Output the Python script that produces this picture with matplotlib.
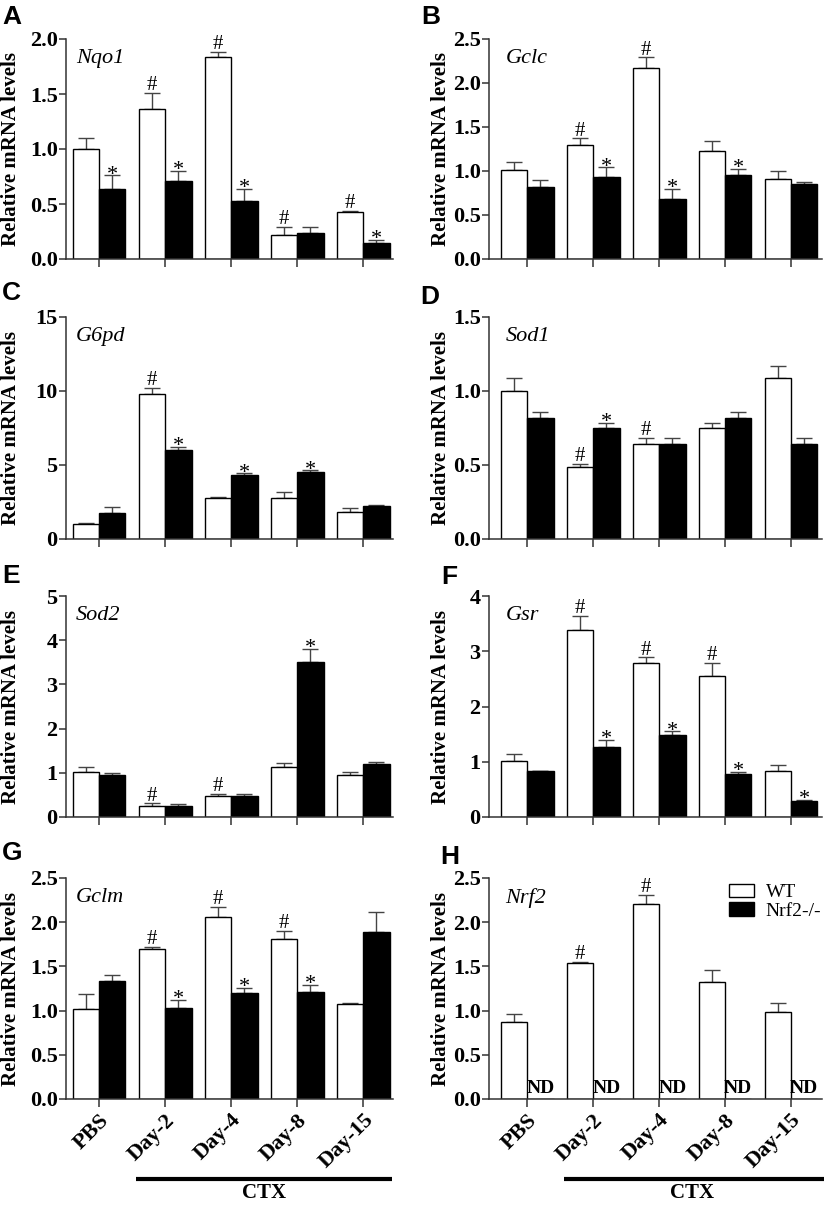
import numpy as np
import matplotlib.pyplot as plt
from matplotlib.patches import Patch

plt.rcParams['font.family'] = ['Liberation Serif', 'DejaVu Serif']

groups = ['PBS', 'Day-2', 'Day-4', 'Day-8', 'Day-15']

# A - Nqo1
nqo1_wt = [1.00, 1.36, 1.84, 0.22, 0.43]
nqo1_wt_err = [0.10, 0.15, 0.04, 0.07, 0.01]
nqo1_ko = [0.64, 0.71, 0.53, 0.24, 0.15]
nqo1_ko_err = [0.12, 0.09, 0.11, 0.05, 0.02]
nqo1_wt_sig = ['', '#', '#', '#', '#']
nqo1_ko_sig = ['*', '*', '*', '', '*']

# B - Gclc
gclc_wt = [1.01, 1.30, 2.17, 1.23, 0.91]
gclc_wt_err = [0.09, 0.07, 0.12, 0.11, 0.09]
gclc_ko = [0.82, 0.93, 0.68, 0.95, 0.85]
gclc_ko_err = [0.08, 0.11, 0.12, 0.07, 0.03]
gclc_wt_sig = ['', '#', '#', '', '']
gclc_ko_sig = ['', '*', '*', '*', '']

# C - G6pd
g6pd_wt = [1.00, 9.83, 2.75, 2.75, 1.84]
g6pd_wt_err = [0.10, 0.40, 0.07, 0.40, 0.24]
g6pd_ko = [1.75, 6.04, 4.32, 4.52, 2.24]
g6pd_ko_err = [0.40, 0.16, 0.11, 0.11, 0.03]
g6pd_wt_sig = ['', '#', '', '', '']
g6pd_ko_sig = ['', '*', '*', '*', '']

# D - Sod1
sod1_wt = [1.00, 0.485, 0.64, 0.75, 1.09]
sod1_wt_err = [0.09, 0.02, 0.045, 0.035, 0.08]
sod1_ko = [0.82, 0.75, 0.64, 0.82, 0.64]
sod1_ko_err = [0.04, 0.035, 0.045, 0.04, 0.045]
sod1_wt_sig = ['', '#', '#', '', '']
sod1_ko_sig = ['', '*', '', '', '']

# E - Sod2
sod2_wt = [1.01, 0.26, 0.47, 1.12, 0.95]
sod2_wt_err = [0.11, 0.05, 0.06, 0.11, 0.07]
sod2_ko = [0.95, 0.255, 0.47, 3.50, 1.21]
sod2_ko_err = [0.05, 0.035, 0.06, 0.31, 0.03]
sod2_wt_sig = ['', '#', '#', '', '']
sod2_ko_sig = ['', '', '', '*', '']

# F - Gsr
gsr_wt = [1.01, 3.38, 2.78, 2.55, 0.84]
gsr_wt_err = [0.13, 0.26, 0.11, 0.24, 0.11]
gsr_ko = [0.83, 1.26, 1.49, 0.78, 0.29]
gsr_ko_err = [0.01, 0.14, 0.06, 0.03, 0.02]
gsr_wt_sig = ['', '#', '#', '#', '']
gsr_ko_sig = ['', '*', '*', '*', '*']

# G - Gclm
gclm_wt = [1.02, 1.70, 2.06, 1.81, 1.08]
gclm_wt_err = [0.17, 0.02, 0.11, 0.09, 0.01]
gclm_ko = [1.34, 1.03, 1.20, 1.21, 1.89]
gclm_ko_err = [0.06, 0.09, 0.06, 0.08, 0.23]
gclm_wt_sig = ['', '#', '#', '#', '']
gclm_ko_sig = ['', '*', '*', '*', '']

# H - Nrf2 (not detected in Nrf2-/-)
nrf2_wt = [0.875, 1.54, 2.21, 1.32, 0.98]
nrf2_wt_err = [0.085, 0.01, 0.10, 0.14, 0.11]
nrf2_ko = [0, 0, 0, 0, 0]
nrf2_ko_err = [0, 0, 0, 0, 0]
nrf2_wt_sig = ['', '#', '#', '', '']
nrf2_ko_sig = ['', '', '', '', '']

panels = [
    ('A', 'Nqo1', nqo1_wt, nqo1_wt_err, nqo1_ko, nqo1_ko_err, nqo1_wt_sig, nqo1_ko_sig, 2.0, 0.5),
    ('B', 'Gclc', gclc_wt, gclc_wt_err, gclc_ko, gclc_ko_err, gclc_wt_sig, gclc_ko_sig, 2.5, 0.5),
    ('C', 'G6pd', g6pd_wt, g6pd_wt_err, g6pd_ko, g6pd_ko_err, g6pd_wt_sig, g6pd_ko_sig, 15, 5),
    ('D', 'Sod1', sod1_wt, sod1_wt_err, sod1_ko, sod1_ko_err, sod1_wt_sig, sod1_ko_sig, 1.5, 0.5),
    ('E', 'Sod2', sod2_wt, sod2_wt_err, sod2_ko, sod2_ko_err, sod2_wt_sig, sod2_ko_sig, 5, 1),
    ('F', 'Gsr', gsr_wt, gsr_wt_err, gsr_ko, gsr_ko_err, gsr_wt_sig, gsr_ko_sig, 4, 1),
    ('G', 'Gclm', gclm_wt, gclm_wt_err, gclm_ko, gclm_ko_err, gclm_wt_sig, gclm_ko_sig, 2.5, 0.5),
    ('H', 'Nrf2', nrf2_wt, nrf2_wt_err, nrf2_ko, nrf2_ko_err, nrf2_wt_sig, nrf2_ko_sig, 2.5, 0.5),
]

W, H = 825, 1205
fig = plt.figure(figsize=(W / 100, H / 100), dpi=100)

rows_px = [(39, 259), (317, 539), (596, 817), (878, 1099)]
cols_px = [(66, 393, (-0.5, 4.45)), (489, 822, (-0.58, 4.47))]
letter_px = [(2, 5), (421, 5), (2, 281), (420, 285), (2, 564), (441, 565), (2, 841), (440, 845)]

x = np.arange(len(groups))
bw = 0.4
axcol = '#333333'

for i, (letter, gene, wt, wt_err, ko, ko_err, wt_sig, ko_sig, ymax, ystep) in enumerate(panels):
    r, c = divmod(i, 2)
    top, bot = rows_px[r]
    left, right, xl = cols_px[c]
    ax = fig.add_axes([left / W, 1 - bot / H, (right - left) / W, (bot - top) / H])

    ax.bar(x - bw / 2, wt, bw, color='white', edgecolor='black', lw=1.0, label='WT', zorder=2)
    ax.bar(x + bw / 2, ko, bw, color='black', edgecolor='black', lw=1.0, label='Nrf2-/-', zorder=2)
    ax.errorbar(x - bw / 2, wt, yerr=[np.zeros(5), wt_err], fmt='none', ecolor='#444444',
                elinewidth=1.0, capsize=6, capthick=1.0, zorder=1)
    if letter != 'H':
        ax.errorbar(x + bw / 2, ko, yerr=[np.zeros(5), ko_err], fmt='none', ecolor='#444444',
                    elinewidth=1.0, capsize=6, capthick=1.0, zorder=1)

    for j in range(5):
        if wt_sig[j]:
            ax.annotate(wt_sig[j], (x[j] - bw / 2, wt[j] + wt_err[j]), xytext=(0, 2),
                        textcoords='offset points', ha='center', va='baseline', fontsize=15)
        if ko_sig[j]:
            ax.annotate(ko_sig[j], (x[j] + bw / 2, ko[j] + ko_err[j]), xytext=(0, -3),
                        textcoords='offset points', ha='center', va='baseline', fontsize=16)

    ax.set_xlim(*xl)
    ax.set_ylim(0, ymax)
    yt = np.arange(0, ymax + ystep / 2, ystep)
    ax.set_yticks(yt)
    if ystep < 1:
        ax.set_yticklabels(['%.1f' % v for v in yt])
    else:
        ax.set_yticklabels(['%d' % v for v in yt])
    ax.set_xticks(x)

    for s in ['top', 'right']:
        ax.spines[s].set_visible(False)
    for s in ['left', 'bottom']:
        ax.spines[s].set_color(axcol)
        ax.spines[s].set_linewidth(1.1)
    ax.tick_params(axis='y', direction='out', length=5, width=1.1, color=axcol, pad=1, labelsize=16)
    ax.tick_params(axis='x', direction='out', length=6, width=1.1, color=axcol, pad=2, labelsize=16)
    for lab in ax.get_yticklabels():
        lab.set_fontweight('bold')

    ax.set_ylabel('Relative mRNA levels', fontsize=15, fontweight='bold')
    ax.yaxis.set_label_coords(-0.139 if c == 0 else -0.113, 0.5)

    gx = 0.03 if c == 0 else 0.05
    ax.text(gx, 0.91, gene, transform=ax.transAxes, fontsize=16, style='italic', va='center')

    fig.text(letter_px[i][0] / W, 1 - letter_px[i][1] / H, letter, fontsize=19, fontweight='bold',
             family='Liberation Sans', va='top', ha='left')

    if r == 3:
        ax.set_xticklabels(groups, rotation=45, ha='right', rotation_mode='anchor',
                           fontweight='bold', fontsize=16)
        # CTX bracket under the treated groups
        ax.plot([0.56, 4.44 if c == 0 else 4.5], [-0.362, -0.362], color='black', lw=3,
                transform=ax.get_xaxis_transform(), clip_on=False, solid_capstyle='butt')
        ax.text(2.5, -0.472, 'CTX', transform=ax.get_xaxis_transform(), ha='center', va='bottom',
                fontsize=15, fontweight='bold')
    else:
        ax.set_xticklabels([])

    if letter == 'H':
        for j in range(5):
            ax.text(x[j] + bw / 2, 0.01, 'ND', ha='center', va='bottom', fontsize=14,
                    fontweight='bold', transform=ax.get_xaxis_transform())
        ax.legend(handles=[Patch(fc='white', ec='black', lw=1.0), Patch(fc='black', ec='black', lw=1.0)],
                  labels=['WT', 'Nrf2-/-'], loc='upper left', bbox_to_anchor=(0.72, 0.975),
                  frameon=False, fontsize=14, handlelength=1.3, handleheight=0.7,
                  labelspacing=0.05, handletextpad=0.6, borderaxespad=0, borderpad=0)

fig.savefig('out.png', dpi=100)
